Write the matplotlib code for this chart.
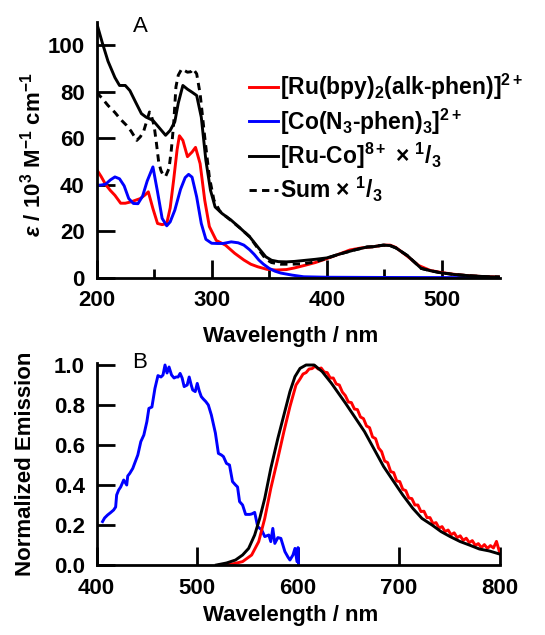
import matplotlib
matplotlib.use("Agg")
import matplotlib.pyplot as plt
from matplotlib.ticker import FormatStrFormatter

# ---------------- Panel A: absorption ----------------
wl_ru = [200,204,208,212,216,221,225,230,234,238,242,245,249,253,257,261,264,267,270,272,275,279,283,286,290,294,298,304,312,320,328,334,340,348,356,365,372,380,390,400,410,420,430,440,450,455,460,470,480,490,500,510,520,535,550]
ru_abs = [46.6,43.5,40,37.5,35.4,32,32,32.6,33.3,34,35.5,36.9,29.7,23.3,22.8,23.3,30,42,55,61,59,52,54,56,49,33.3,22,16,14,10.5,7.6,5.8,4.7,3.6,3.3,3.5,4.2,5.2,6.5,8.2,10,11.9,12.8,13.3,14,14,13,9.2,5.2,3.1,2.2,1.5,1,0.5,0.3]

wl_co = [200,204,208,212,216,220,224,228,232,236,240,244,249,253,257,261,264,268,273,277,280,283,287,291,295,300,305,310,317,323,328,333,337,341,345,350,355,360,370,380,400,450,550]
co_abs = [39.7,39.8,40.2,42,43.3,42.5,39.5,34,31.9,31.8,35,41.5,47.6,36.9,25.5,22.3,24,29,38,43,44.4,43.2,34.7,23.3,16.5,14.8,14.7,14.7,15.4,15,14,12,10,7.6,5.8,4,2.8,2,1.1,0.4,0.2,0.1,0]

wl_ruco = [200,205,210,216,220,225,229,234,239,243,249,254,260,264,268,271,275,279,283,287,291,295,299,303,309,317,325,333,341,347,352,358,365,372,380,390,400,410,424,435,440,449,455,460,470,482,490,498,510,525,540,550]
ruco_abs = [109.7,101,93,86,82.6,82.6,80.4,75.4,70.5,69,67.6,64.7,61.2,63.3,67,75,82.6,81,79.7,78.3,69,50.4,37.6,30.4,27.6,24.7,21.2,17.6,12.6,9,7.5,6.9,6.8,7,7.4,7.9,8.5,10,11.9,13.2,13.3,14,13.8,12.8,9.5,4,3,2.2,1.4,0.8,0.4,0.3]

wl_sum = [200,205,210,216,221,226,230,235,238,241,246,248,250,252,254,256,258,260,263,265,267,269,271,274,279,282,284,287,290,294,298,302,307,312,317,325,333,341,347,352,360,370,380,390,400,410,424,435,440,449,455,460,470,482,490,498,510,525,540,550]
sum_abs = [79.7,77,74,71,68,65.5,63,59,60.5,63,71.2,69,65.4,58,49.7,46,44,43.5,47,55,66,82,87,89.7,88.3,88.5,89.7,87.6,79,60.4,43.3,33.3,28.7,26.5,24.5,21.2,17.6,12,8,6.5,5.8,5.8,6,6.8,8.3,10,11.9,13.2,13.3,14,13.8,12.8,9.5,4,3,2.2,1.4,0.8,0.4,0.3]

# ---------------- Panel B: emission ----------------
wl_co_em = [406,408,411,414,417,419,420,422,424,427,430,431,433,436,438,441,444,447,450,452,455,458,461,464,466,468,470,472,474.5,477,479,481,483,485,487,490,492,494,495.5,498,500,502,504,506,508.5,511,514,518,521,524,526,529,532,535,538,540,542,545,548,552,554,557,560,564,567,571,573,575,577,580,583,585,587,590,592,595,597,599,600,600.5]
co_em = [0.217,0.235,0.25,0.262,0.275,0.29,0.35,0.375,0.39,0.425,0.4,0.445,0.458,0.483,0.51,0.55,0.617,0.65,0.717,0.783,0.79,0.883,0.947,0.94,0.95,1.0,0.96,0.99,0.95,0.935,0.94,0.94,0.958,0.935,0.892,0.9,0.94,0.9,0.875,0.867,0.908,0.87,0.842,0.83,0.817,0.8,0.75,0.66,0.558,0.55,0.542,0.508,0.5,0.417,0.4,0.39,0.317,0.3,0.253,0.253,0.255,0.263,0.192,0.175,0.142,0.15,0.117,0.183,0.108,0.137,0.133,0.1,0.067,0.04,0.025,0.05,0.083,0.017,0.087,0.0]

wl_ru_em = [522,535,545,554,561,567,573,580,586,592,598,602,605,608,611,614,617,620,623,626,629,632,635,638,641,644,647,650,653,656,659,662,665,668,671,674,677,680,683,686,689,692,695,698,701,704,707,710,713,716,719,722,725,728,731,734,737,740,743,746,749,752,755,758,761,764,767,770,773,776,779,782,785,788,791,794,797,800]
ru_em = [0,0.005,0.017,0.05,0.117,0.233,0.383,0.533,0.667,0.792,0.9,
         0.93,0.955,0.962,0.98,0.982,0.995,0.98,0.985,0.965,0.962,0.935,0.935,0.905,0.9,0.865,0.847,0.815,0.812,0.78,0.777,
         0.74,0.732,0.695,0.687,0.64,0.632,0.585,0.567,0.52,0.512,0.467,0.462,0.42,0.417,0.378,0.372,0.335,0.332,0.3,0.3,
         0.267,0.269,0.237,0.237,0.207,0.212,0.185,0.192,0.167,0.175,0.151,0.161,0.137,0.146,0.123,0.134,0.112,0.122,0.098,0.107,
         0.087,0.102,0.083,0.097,0.085,0.118,0.065]

wl_ruco_em = [519,529,538,545,551,557,562,567,573,580,586,592,597,602,608,616,624,633,640,647,657,666,676,685,695,704,714,723,733,742,751,761,770,780,790,800]
ruco_em = [0,0.01,0.025,0.05,0.083,0.15,0.233,0.333,0.483,0.633,0.75,0.867,0.942,0.983,1.0,1.0,0.967,0.91,0.86,0.81,0.735,0.667,0.575,0.492,0.417,0.35,0.283,0.233,0.2,0.167,0.142,0.117,0.1,0.08,0.07,0.055]

labels = [r'[Ru(bpy)$_2$(alk-phen)]$^{2+}$',
          r'[Co(N$_3$-phen)$_3$]$^{2+}$',
          r'[Ru-Co]$^{8+}$ × $^1$/$_3$',
          r'Sum × $^1$/$_3$']

plt.rcParams['font.family'] = ['Liberation Sans', 'DejaVu Sans']
plt.rcParams['font.weight'] = 'bold'
plt.rcParams['mathtext.fontset'] = 'custom'
plt.rcParams['mathtext.rm'] = 'Liberation Sans:bold'
plt.rcParams['mathtext.bf'] = 'Liberation Sans:bold'
plt.rcParams['mathtext.it'] = 'Liberation Sans:italic'
plt.rcParams['mathtext.default'] = 'rm'

W, H = 545, 635
fig = plt.figure(figsize=(W/100, H/100), dpi=100)

L, R = 96.5, 499.5
FS = 16

def frac(x0, ytop, x1, ybot):
    return [x0/W, 1-ybot/H, (x1-x0)/W, (ybot-ytop)/H]

axA = fig.add_axes(frac(L, 21.7, R, 277.7))
axB = fig.add_axes(frac(L, 363.0, R, 565.0))
AW = R - L

LW = 2.1
axA.plot(wl_ru, ru_abs, color='#ff0000', lw=LW, label=labels[0])
axA.plot(wl_co, co_abs, color='#0000ff', lw=LW, label=labels[1])
axA.plot(wl_ruco, ruco_abs, color='black', lw=LW, label=labels[2])
axA.plot(wl_sum, sum_abs, color='black', lw=LW, ls=(0, (2.5, 1.8)), label=labels[3])

axB.plot(wl_co_em, co_em, color='#0000ff', lw=LW)
axB.plot(wl_ru_em, ru_em, color='#ff0000', lw=LW)
axB.plot(wl_ruco_em, ruco_em, color='black', lw=LW)

for ax in (axA, axB):
    for s in ('top', 'right'):
        ax.spines[s].set_visible(False)
    for s in ('left', 'bottom'):
        ax.spines[s].set_linewidth(2.0)
    ax.tick_params(which='major', direction='in', length=13, width=2.0, labelsize=FS)
    ax.tick_params(which='minor', direction='in', length=6.5, width=2.0)
    ax.tick_params(axis='x', pad=9)
    ax.tick_params(axis='y', pad=8.5)
    ax.patch.set_visible(False)

axA.set_xlim(200, 550)
axA.set_ylim(0, 110)
axA.set_xticks([200, 300, 400, 500])
axA.set_xticks([250, 350, 450], minor=True)
axA.set_yticks([0, 20, 40, 60, 80, 100])
axA.set_xlabel('Wavelength / nm', fontsize=FS, fontweight='bold')
axA.set_ylabel(r'$\mathit{\varepsilon}$ / 10$^3$ M$^{-1}$ cm$^{-1}$', fontsize=FS, fontweight='bold')
axA.xaxis.set_label_coords((291 - L) / AW, -0.19)
axA.yaxis.set_label_coords((46 - L) / AW, 0.48)
axA.text((140 - L) / AW, 0.98, 'A', transform=axA.transAxes, fontsize=FS, fontweight='normal',
         ha='center', va='center')

leg = axA.legend(loc='upper left', bbox_to_anchor=((249 - L) / AW, (277.7 - 72) / 256),
                 frameon=False, fontsize=16.5, handlelength=1.25, handletextpad=0.12,
                 labelspacing=0.18, borderpad=0, borderaxespad=0)

axB.set_xlim(400, 800)
axB.set_ylim(0, 1.01)
axB.set_xticks([400, 500, 600, 700, 800])
axB.set_yticks([0, 0.2, 0.4, 0.6, 0.8, 1.0])
axB.yaxis.set_major_formatter(FormatStrFormatter('%.1f'))
axB.set_xlabel('Wavelength / nm', fontsize=FS, fontweight='bold')
axB.set_ylabel('Normalized Emission', fontsize=FS, fontweight='bold')
axB.xaxis.set_label_coords((291 - L) / AW, -0.2)
axB.yaxis.set_label_coords((36 - L) / AW, 0.502)
axB.text((140 - L) / AW, 1.0, 'B', transform=axB.transAxes, fontsize=FS, fontweight='normal',
         ha='center', va='center')

fig.savefig('out.png', dpi=100)
